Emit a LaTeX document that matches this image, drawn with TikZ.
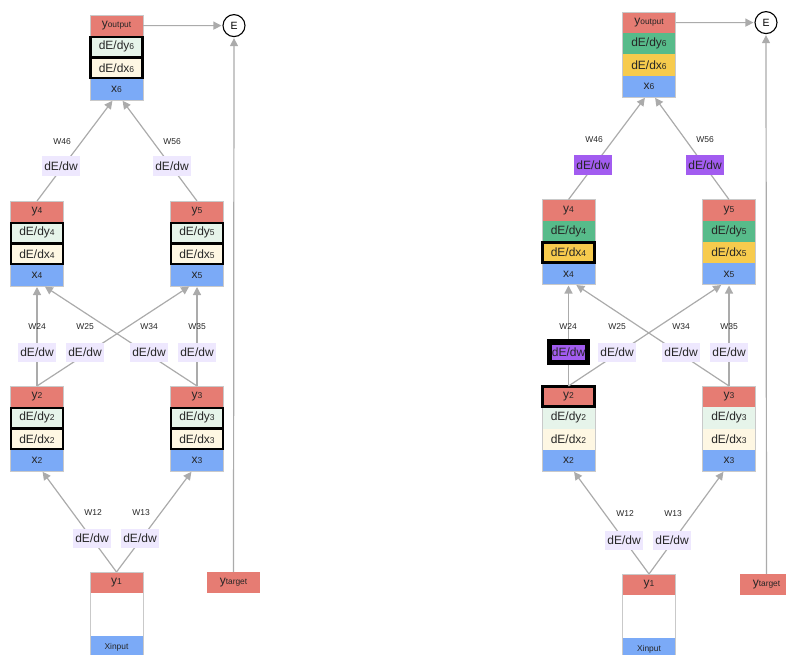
\documentclass[tikz,border=0pt]{standalone}
\usepackage{fontspec}
\setmainfont{Liberation Sans}
\usetikzlibrary{arrows.meta,fit}
\definecolor{cred}{HTML}{E67C73}
\definecolor{cblue}{HTML}{7BAAF7}
\definecolor{cmint}{HTML}{E6F4EA}
\definecolor{ccream}{HTML}{FEF7E3}
\definecolor{cgreen}{HTML}{57BB8A}
\definecolor{cyellow}{HTML}{F7CB4D}
\definecolor{clav}{HTML}{EEE8FE}
\definecolor{cpurple}{HTML}{A25CF0}
\definecolor{cedge}{HTML}{ABABAB}
\definecolor{cborder}{HTML}{C9C9C9}
\definecolor{ctext}{HTML}{262626}
\newcommand\mysub[1]{{\fontsize{8.5}{8.5}\selectfont #1}}
\newcommand\mytiny[1]{{\fontsize{8.4}{8.4}\selectfont #1}}
\tikzset{
  row/.style={anchor=north, minimum width=53pt, minimum height=21.25pt, inner sep=0pt, outer sep=0pt, text=ctext, font=\fontsize{12}{12}\selectfont},
  stackborder/.style={draw=cborder, line width=0.8pt, inner sep=0pt},
  hl/.style={draw=black, line width=2.4pt, inner sep=-0.6pt},
  edge/.style={draw=cedge, line width=1.2pt, -{Triangle[length=8pt,width=8pt]}, shorten >=1pt},
  wbox/.style={fill=clav, minimum width=38pt, minimum height=19pt, inner sep=0pt, text=ctext, font=\fontsize{12}{12}\selectfont},
  wlabel/.style={inner sep=0pt, text=ctext, font=\fontsize{8.5}{8.5}\selectfont},
  enode/.style={circle, draw=black, line width=1.1pt, minimum size=22pt, inner sep=0pt, font=\fontsize{10.5}{10.5}\selectfont}
}
% #1 name, #2 cx, #3 top, #4 y label, #5 idx, #6 dy fill, #7 dx fill
\newcommand\mystack[7]{%
  \node[row,fill=cred] (#1y) at (#2,#3) {#4};
  \node[row,fill=#6] (#1dy) at (#1y.south) {dE/dy\mysub{#5}};
  \node[row,fill=#7] (#1dx) at (#1dy.south) {dE/dx\mysub{#5}};
  \node[row,fill=cblue] (#1x) at (#1dx.south) {x\mysub{#5}};
  \node[stackborder,fit=(#1y)(#1x)] (#1) {};
}
% #1 name, #2 cx, #3 top
\newcommand\inputstack[3]{%
  \node[row,fill=cred] (#1y) at (#2,#3) {y\mysub{1}};
  \node[row,minimum height=43pt] (#1m) at (#1y.south) {};
  \node[row,fill=cblue] (#1x) at (#1m.south) {\mytiny{Xinput}};
  \node[stackborder,fit=(#1y)(#1x)] (#1) {};
}
\begin{document}
\begin{tikzpicture}[x=1pt,y=-1pt]
\useasboundingbox (0,0) rectangle (786,655);
%%%%%%%%%%%%%%%% LEFT PANEL
\mystack{L6}{116.5}{15}{y\mytiny{output}}{6}{cmint}{ccream}
\mystack{L4}{37}{201}{y\mysub{4}}{4}{cmint}{ccream}
\mystack{L5}{197}{201}{y\mysub{5}}{5}{cmint}{ccream}
\mystack{L2}{37}{386}{y\mysub{2}}{2}{cmint}{ccream}
\mystack{L3}{197}{386}{y\mysub{3}}{3}{cmint}{ccream}
\inputstack{L1}{116.5}{572}
\node[row,fill=cred] (Lt) at (233.5,572) {y\mytiny{target}};
\node[enode] (LE) at (234,25.6) {E};
\foreach \n in {L6,L4,L5,L2,L3}{
  \node[hl,fit=(\n dy)] {};
  \node[hl,fit=(\n dx)] {};
}
% edges
\draw[edge] (L6y.east) -- (LE.west);
\draw[edge] (Lt.north) -- (LE.south);
\draw[edge] (L4y.north) -- ([xshift=-3.5pt]L6x.south);
\draw[edge] (L5y.north) -- ([xshift=5.5pt]L6x.south);
\draw[edge] (L2y.north) -- (L4x.south);
\draw[edge] (L2y.north) -- ([xshift=-7pt]L5x.south);
\draw[edge] (L3y.north) -- ([xshift=7pt]L4x.south);
\draw[edge] (L3y.north) -- (L5x.south);
\draw[edge] (L1y.north) -- ([xshift=5pt]L2x.south);
\draw[edge] (L1y.north) -- ([xshift=-5pt]L3x.south);
% weights
\node[wbox] (Lw46) at (61,166) {dE/dw};
\node[wbox] (Lw56) at (172,166) {dE/dw};
\node[wbox] (Lw24) at (37,352) {dE/dw};
\node[wbox] (Lw25) at (85,352) {dE/dw};
\node[wbox] (Lw34) at (149,352) {dE/dw};
\node[wbox] (Lw35) at (197,352) {dE/dw};
\node[wbox] (Lw12) at (92,538) {dE/dw};
\node[wbox] (Lw13) at (140,538) {dE/dw};
\node[wlabel] (Ll46) at (62,142) {W46};
\node[wlabel] (Ll56) at (172,142) {W56};
\node[wlabel] (Ll24) at (37,327) {W24};
\node[wlabel] (Ll25) at (85,327) {W25};
\node[wlabel] (Ll34) at (149,327) {W34};
\node[wlabel] (Ll35) at (197,327) {W35};
\node[wlabel] (Ll12) at (93,513) {W12};
\node[wlabel] (Ll13) at (141,513) {W13};
%%%%%%%%%%%%%%%% RIGHT PANEL
\mystack{R6}{649}{12}{y\mytiny{output}}{6}{cgreen}{cyellow}
\mystack{R4}{568.5}{199.5}{y\mysub{4}}{4}{cgreen}{cyellow}
\mystack{R5}{729}{199.5}{y\mysub{5}}{5}{cgreen}{cyellow}
\mystack{R2}{568.5}{386}{y\mysub{2}}{2}{cmint}{ccream}
\mystack{R3}{729}{386}{y\mysub{3}}{3}{cmint}{ccream}
\inputstack{R1}{649}{574}
\node[row,fill=cred] (Rt) at (766.5,574) {y\mytiny{target}};
\node[enode] (RE) at (766,22.6) {E};
\node[hl,fit=(R4dx)] {};
\node[hl,fit=(R2y)] {};
% edges
\draw[edge] (R6y.east) -- (RE.west);
\draw[edge] (Rt.north) -- (RE.south);
\draw[edge] (R4y.north) -- ([xshift=-3.5pt]R6x.south);
\draw[edge] (R5y.north) -- ([xshift=5.5pt]R6x.south);
\draw[edge] (R2y.north) -- (R4x.south);
\draw[edge] (R2y.north) -- ([xshift=-7pt]R5x.south);
\draw[edge] (R3y.north) -- ([xshift=7pt]R4x.south);
\draw[edge] (R3y.north) -- (R5x.south);
\draw[edge] (R1y.north) -- ([xshift=5pt]R2x.south);
\draw[edge] (R1y.north) -- ([xshift=-5pt]R3x.south);
% weights
\node[wbox,fill=cpurple] (Rw46) at (593,165) {dE/dw};
\node[wbox,fill=cpurple] (Rw56) at (705,165) {dE/dw};
\node[fill=black, minimum width=43pt, minimum height=26pt, inner sep=0pt] (Rw24) at (568.5,352) {};
\node[fill=cpurple, minimum width=33pt, minimum height=15pt, inner sep=0pt, text=ctext, font=\fontsize{12}{12}\selectfont] (Rw24i) at (Rw24.center) {dE/dw};
\node[wbox] (Rw25) at (617,352) {dE/dw};
\node[wbox] (Rw34) at (681,352) {dE/dw};
\node[wbox] (Rw35) at (729,352) {dE/dw};
\node[wbox] (Rw12) at (624,540) {dE/dw};
\node[wbox] (Rw13) at (672,540) {dE/dw};
\node[wlabel] (Rl46) at (594,140) {W46};
\node[wlabel] (Rl56) at (705,140) {W56};
\node[wlabel] (Rl24) at (568,327) {W24};
\node[wlabel] (Rl25) at (617,327) {W25};
\node[wlabel] (Rl34) at (681,327) {W34};
\node[wlabel] (Rl35) at (729,327) {W35};
\node[wlabel] (Rl12) at (625,514) {W12};
\node[wlabel] (Rl13) at (673,514) {W13};
\end{tikzpicture}
\end{document}
